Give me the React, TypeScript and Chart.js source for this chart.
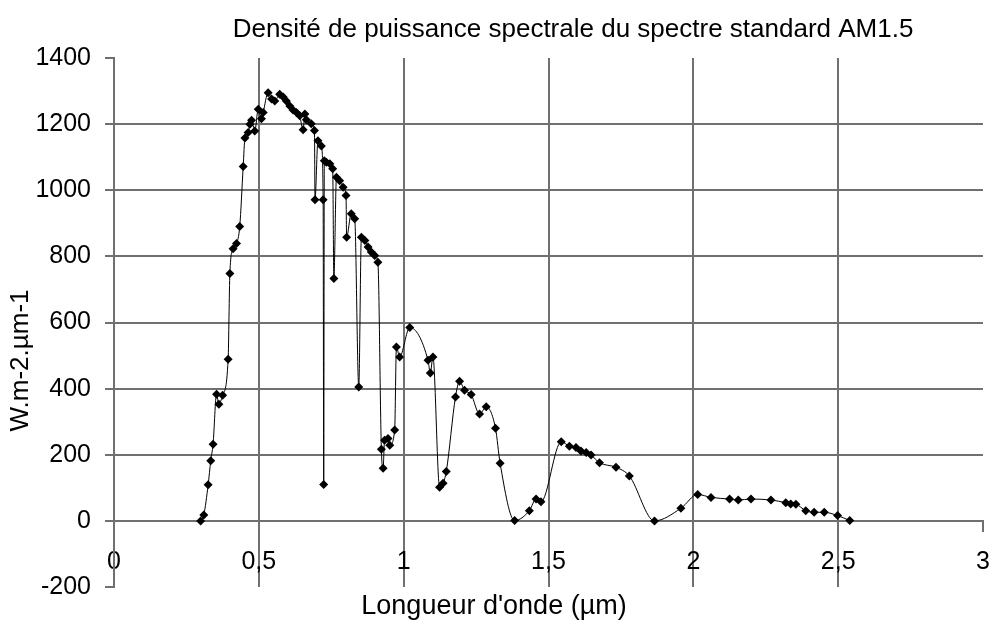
import React, { useEffect, useRef } from 'react';
import { Chart, registerables } from 'chart.js';

Chart.register(...registerables);

// Wavelength (µm)
const wavelengths = [
  0.299, 0.31, 0.325, 0.334, 0.342, 0.354, 0.362, 0.375, 0.394, 0.4,
  0.411, 0.423, 0.434, 0.446, 0.452, 0.463, 0.469, 0.475, 0.486, 0.498,
  0.509, 0.515, 0.532, 0.544, 0.555, 0.572, 0.584, 0.595, 0.607, 0.618,
  0.63, 0.641, 0.653, 0.659, 0.664, 0.681, 0.692, 0.694, 0.704, 0.716,
  0.722, 0.724, 0.726, 0.733, 0.745, 0.755, 0.759, 0.768, 0.779, 0.791,
  0.801, 0.803, 0.819, 0.831, 0.845, 0.854, 0.866, 0.877, 0.888, 0.9,
  0.911, 0.923, 0.929, 0.934, 0.946, 0.952, 0.969, 0.975, 0.986, 1.021,
  1.084, 1.092, 1.101, 1.124, 1.136, 1.147, 1.179, 1.193, 1.21, 1.233,
  1.262, 1.285, 1.317, 1.333, 1.383, 1.434, 1.457, 1.474, 1.544, 1.572,
  1.595, 1.612, 1.63, 1.647, 1.676, 1.733, 1.779, 1.866, 1.957, 2.015,
  2.061, 2.125, 2.155, 2.199, 2.268, 2.319, 2.336, 2.354, 2.388, 2.417,
  2.452, 2.498, 2.54
];

// Spectral power density (W.m-2.µm-1)
const irradiance = [
  0, 18, 109, 182, 232, 383, 353, 380, 489, 748,
  823, 839, 890, 1072, 1158, 1175, 1200, 1212, 1179, 1245,
  1216, 1235, 1295, 1276, 1270, 1290, 1282, 1270, 1255, 1243,
  1235, 1225, 1183, 1231, 1213, 1201, 1181, 971, 1150, 1134,
  971, 110, 1089, 1085, 1080, 1065, 733, 1039, 1029, 1009,
  984, 858, 929, 914, 405, 858, 848, 828, 813, 803,
  782, 217, 159, 244, 249, 229, 275, 526, 496, 585,
  486, 447, 496, 102, 114, 149, 375, 422, 395, 382,
  323, 345, 280, 174, 1, 31, 66, 58, 239, 226,
  222, 211, 207, 199, 176, 162, 136, 0, 38, 80,
  71, 66, 63, 66, 63, 55, 51, 50, 31, 26,
  26, 16, 1
];

const xTickValues = [0, 0.5, 1, 1.5, 2, 2.5, 3];
const yTickValues = [-200, 0, 200, 400, 600, 800, 1000, 1200, 1400];

const chartTitle = 'Densité de puissance spectrale du spectre standard AM1.5';
const xAxisTitle = "Longueur d'onde (µm)";
const yAxisTitle = 'W.m-2.µm-1';

const FONT = '"Liberation Sans", Arial, Helvetica, sans-serif';
const GRID = '#707070';
const NONE = 'rgba(0,0,0,0)';

const textPlugin = {
  id: 'chartTexts',
  afterDraw(chart: any) {
    const { ctx, chartArea } = chart;
    ctx.save();
    ctx.fillStyle = '#000';
    ctx.textAlign = 'center';
    ctx.textBaseline = 'middle';
    ctx.font = `26px ${FONT}`;
    ctx.fillText(chartTitle, 573, 30);
    ctx.font = `27px ${FONT}`;
    ctx.fillText(xAxisTitle, 494, 607);
    ctx.font = `26px ${FONT}`;
    ctx.translate(21, (chartArea.top + chartArea.bottom) / 2 + 38);
    ctx.rotate(-Math.PI / 2);
    ctx.fillText(yAxisTitle, 0, 0);
    ctx.restore();
  },
};

export default function App() {
  const canvasRef = useRef<HTMLCanvasElement | null>(null);

  useEffect(() => {
    if (!canvasRef.current) return;
    const points = wavelengths.map((x, i) => ({ x, y: irradiance[i] }));
    const chart = new Chart(canvasRef.current, {
      type: 'scatter',
      data: {
        datasets: [
          {
            data: points,
            showLine: true,
            borderColor: '#000',
            borderWidth: 1,
            backgroundColor: '#000',
            pointBackgroundColor: '#000',
            pointBorderColor: '#000',
            pointStyle: 'rectRot',
            pointRadius: 4.5,
            pointBorderWidth: 0,
            cubicInterpolationMode: 'monotone',
          } as any,
        ],
      },
      options: {
        animation: false,
        responsive: true,
        maintainAspectRatio: false,
        layout: { padding: { left: 0, top: 58, right: 10, bottom: 39 } },
        plugins: {
          legend: { display: false },
          title: { display: false },
          tooltip: { enabled: false },
        },
        scales: {
          x: {
            type: 'linear',
            position: { y: 0 } as any,
            min: 0,
            max: 3,
            afterBuildTicks: (scale: any) => {
              scale.ticks = xTickValues.map((v) => ({ value: v }));
            },
            afterFit: (scale: any) => {
              scale.paddingLeft = 0;
              scale.paddingRight = 0;
            },
            ticks: {
              autoSkip: false,
              maxRotation: 0,
              padding: 16,
              color: '#000',
              font: { family: FONT, size: 25 },
              callback: (v: any) => String(v).replace('.', ','),
            },
            grid: {
              color: (c: any) => (c.tick && (c.tick.value === 0 || c.tick.value === 3) ? NONE : GRID),
              lineWidth: 2,
              tickLength: 10,
              tickColor: GRID,
              tickWidth: 2,
            },
            border: { display: true, color: GRID, width: 2 },
          },
          y: {
            type: 'linear',
            position: 'left',
            min: -200,
            max: 1400,
            afterBuildTicks: (scale: any) => {
              scale.ticks = yTickValues.map((v) => ({ value: v }));
            },
            afterFit: (scale: any) => {
              scale.width = 114;
            },
            ticks: {
              autoSkip: false,
              padding: 14,
              color: '#000',
              font: { family: FONT, size: 25 },
              callback: (v: any) => String(v),
            },
            grid: {
              color: (c: any) =>
                c.tick && (c.tick.value === 1400 || c.tick.value === -200) ? NONE : GRID,
              lineWidth: 2,
              tickLength: 9,
              tickColor: GRID,
              tickWidth: 2,
            },
            border: { display: true, color: GRID, width: 2 },
          },
        },
      },
      plugins: [textPlugin],
    });
    return () => chart.destroy();
  }, []);

  return (
    <div style={{ position: 'absolute', left: 0, top: 0, width: 993, height: 626, background: '#fff' }}>
      <canvas ref={canvasRef} />
    </div>
  );
}
